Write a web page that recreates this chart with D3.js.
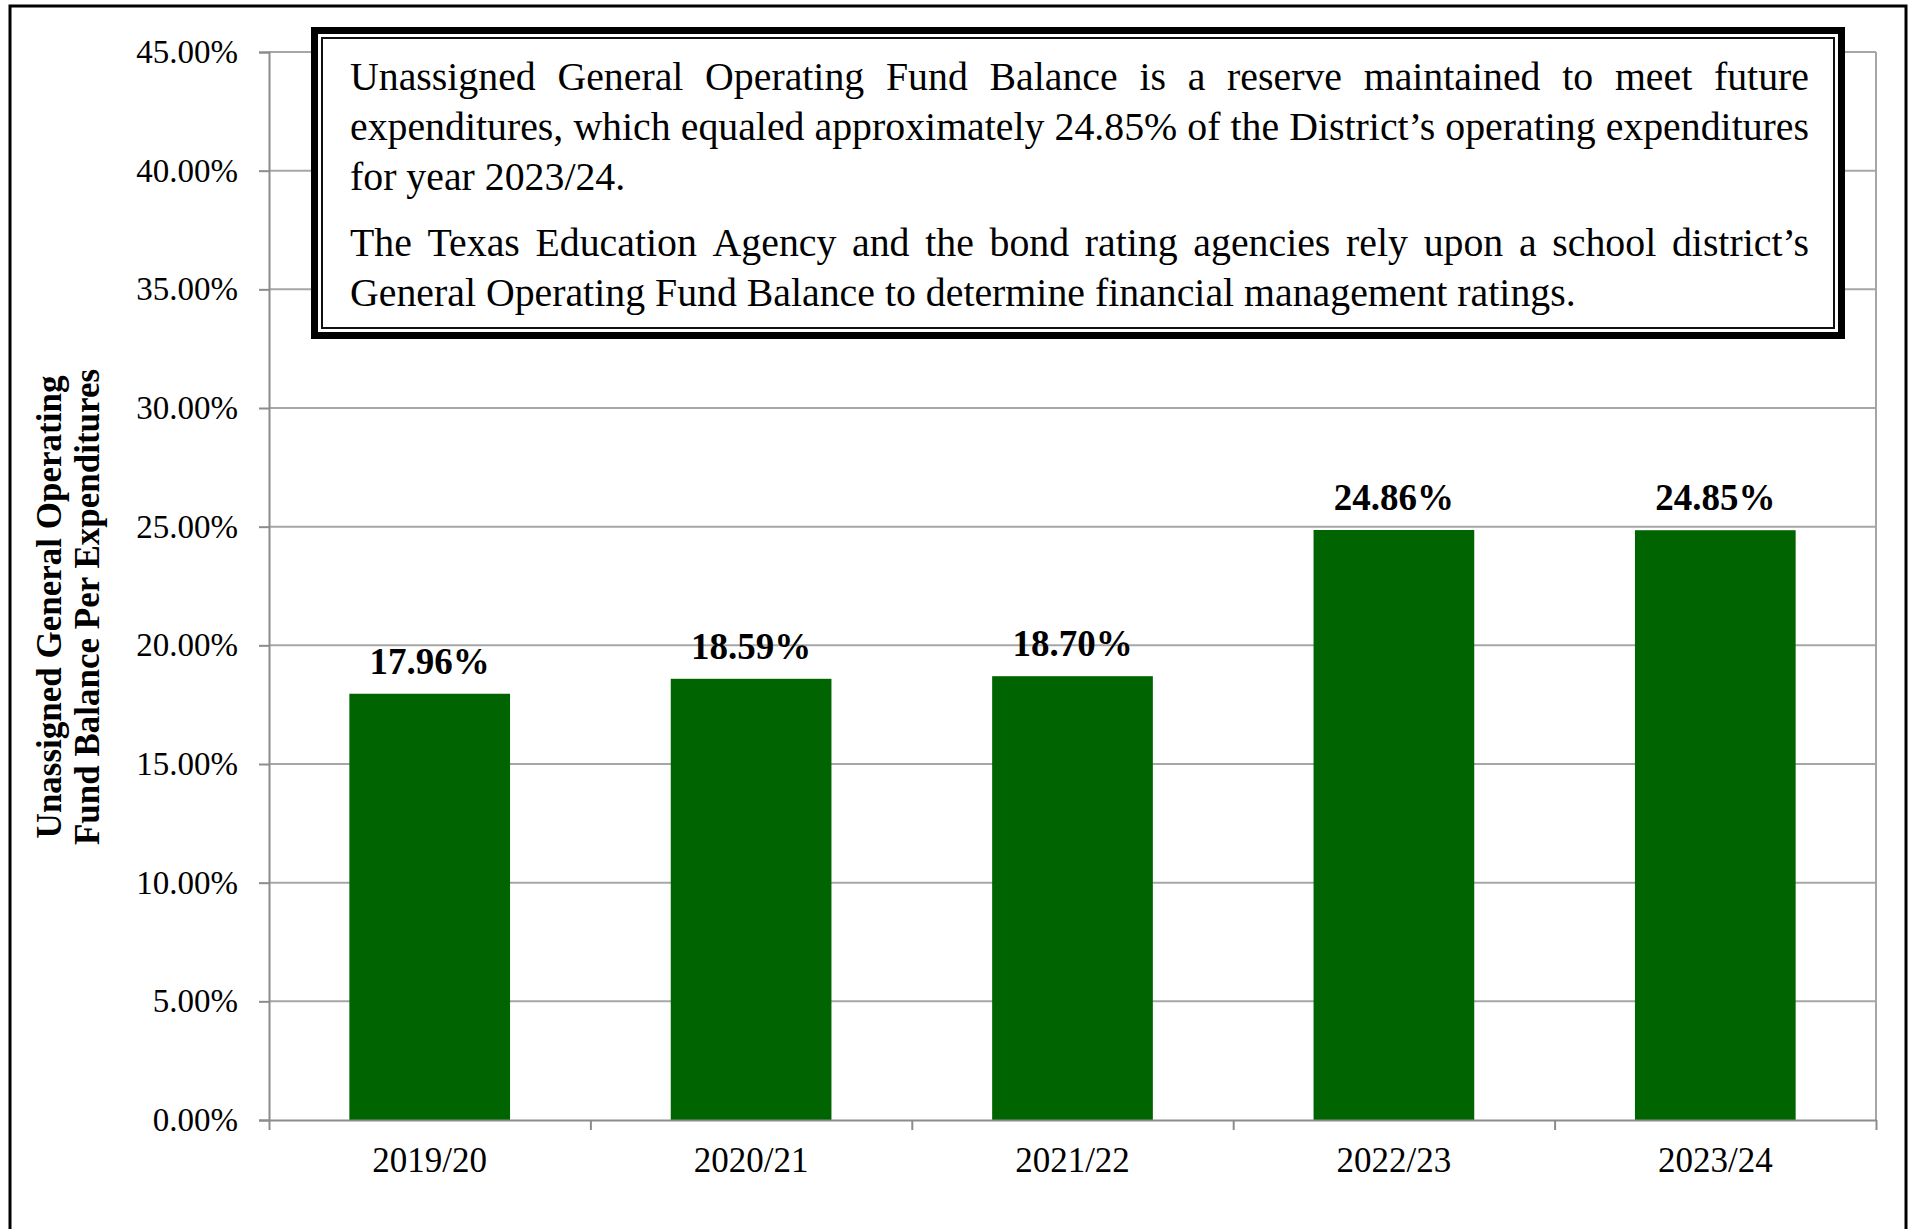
<!DOCTYPE html>
<html>
<head>
<meta charset="utf-8">
<script src="https://cdn.jsdelivr.net/npm/d3@7"></script>
<style>
  html, body { margin: 0; padding: 0; background: #fff; }
  svg { display: block; }
</style>
</head>
<body>
<svg id="chart" width="1915" height="1229"></svg>
<script>
// ---------------- data ----------------
const categories = ["2019/20", "2020/21", "2021/22", "2022/23", "2023/24"];
const values = [17.96, 18.59, 18.70, 24.86, 24.85];
const yTickValues = [0, 5, 10, 15, 20, 25, 30, 35, 40, 45];
const yTitleLines = ["Unassigned General Operating", "Fund Balance Per Expenditures"];
const noteParagraph1 = [
  "Unassigned General Operating Fund Balance is a reserve maintained to meet future",
  "expenditures, which equaled approximately 24.85% of the District\u2019s operating expenditures",
  "for year 2023/24."
];
const noteParagraph2 = [
  "The Texas Education Agency and the bond rating agencies rely upon a school district\u2019s",
  "General Operating Fund Balance to determine financial management ratings."
];

// ---------------- layout ----------------
const FONT = "'Liberation Serif', 'Times New Roman', serif";
const plot = { left: 269, right: 1876, top: 52, bottom: 1120 };
const gridColor = "#a6a6a6";
const axisColor = "#8c8c8c";
const barColor = "#006400";

const svg = d3.select("#chart");

// outer frame
svg.append("rect")
  .attr("x", 10).attr("y", 6)
  .attr("width", 1896).attr("height", 1240)
  .attr("fill", "#fff").attr("stroke", "#000").attr("stroke-width", 3);

const x = d3.scaleBand()
  .domain(categories)
  .range([plot.left, plot.right])
  .paddingInner(0.5)
  .paddingOuter(0.25);

const y = d3.scaleLinear()
  .domain([0, 45])
  .range([plot.bottom, plot.top]);

// gridlines
svg.append("g")
  .selectAll("line")
  .data(yTickValues.filter(d => d > 0))
  .join("line")
  .attr("x1", plot.left).attr("x2", plot.right)
  .attr("y1", d => y(d)).attr("y2", d => y(d))
  .attr("stroke", gridColor).attr("stroke-width", 2);

// right border of plot area
svg.append("line")
  .attr("x1", plot.right).attr("x2", plot.right)
  .attr("y1", y(45)).attr("y2", y(0))
  .attr("stroke", gridColor).attr("stroke-width", 2);

// y axis
const yAxis = d3.axisLeft(y)
  .tickValues(yTickValues)
  .tickFormat(d => d3.format(".2f")(d) + "%")
  .tickSize(10)
  .tickPadding(21);

const yAxisG = svg.append("g")
  .attr("transform", `translate(${plot.left},0)`)
  .call(yAxis);
yAxisG.select(".domain").attr("stroke", axisColor).attr("stroke-width", 2);
yAxisG.selectAll(".tick line").attr("stroke", axisColor).attr("stroke-width", 2);
yAxisG.selectAll(".tick text")
  .attr("font-family", FONT).attr("font-size", 33).attr("fill", "#000");

// bars
svg.append("g")
  .selectAll("rect")
  .data(values)
  .join("rect")
  .attr("x", (d, i) => x(categories[i]))
  .attr("width", x.bandwidth())
  .attr("y", d => y(d))
  .attr("height", d => y(0) - y(d))
  .attr("fill", barColor);

// x axis line + ticks at band boundaries
const edgeScale = d3.scaleLinear().domain([0, categories.length]).range([plot.left, plot.right]);
const xAxis = d3.axisBottom(edgeScale)
  .tickValues(d3.range(0, categories.length + 1))
  .tickFormat("")
  .tickSize(10)
  .tickSizeOuter(0);
const xAxisG = svg.append("g")
  .attr("transform", `translate(0,${plot.bottom})`)
  .call(xAxis);
xAxisG.select(".domain").attr("stroke", axisColor).attr("stroke-width", 2);
xAxisG.selectAll(".tick line").attr("stroke", axisColor).attr("stroke-width", 2);

// category labels
svg.append("g")
  .selectAll("text")
  .data(categories)
  .join("text")
  .attr("x", d => x(d) + x.bandwidth() / 2)
  .attr("y", plot.bottom + 52)
  .attr("text-anchor", "middle")
  .attr("font-family", FONT).attr("font-size", 35).attr("fill", "#000")
  .text(d => d);

// value labels
svg.append("g")
  .selectAll("text")
  .data(values)
  .join("text")
  .attr("x", (d, i) => x(categories[i]) + x.bandwidth() / 2)
  .attr("y", d => y(d) - 20)
  .attr("text-anchor", "middle")
  .attr("font-family", FONT).attr("font-size", 37).attr("font-weight", "bold").attr("fill", "#000")
  .text(d => d3.format(".2f")(d) + "%");

// y-axis title
const titleX = [61, 99];
svg.append("g")
  .selectAll("text")
  .data(yTitleLines)
  .join("text")
  .attr("transform", (d, i) => `translate(${titleX[i]},607) rotate(-90)`)
  .attr("text-anchor", "middle")
  .attr("font-family", FONT).attr("font-size", 35).attr("font-weight", "bold").attr("fill", "#000")
  .text(d => d);

// ---------------- note box ----------------
const box = { x: 311, y: 27, w: 1534, h: 312 };
const thick = 7, gap = 3, thin = 2;
svg.append("rect")
  .attr("x", box.x + thick / 2).attr("y", box.y + thick / 2)
  .attr("width", box.w - thick).attr("height", box.h - thick)
  .attr("fill", "#fff").attr("stroke", "#000").attr("stroke-width", thick);
const innerOff = thick + gap + thin / 2;
svg.append("rect")
  .attr("x", box.x + innerOff).attr("y", box.y + innerOff)
  .attr("width", box.w - 2 * innerOff).attr("height", box.h - 2 * innerOff)
  .attr("fill", "none").attr("stroke", "#111").attr("stroke-width", thin);

const textLeft = 350, textRight = 1809;
const noteFontSize = 39.8;
const noteLines = [
  { text: noteParagraph1[0], baseline: 90, justify: true },
  { text: noteParagraph1[1], baseline: 140, justify: true },
  { text: noteParagraph1[2], baseline: 190, justify: false },
  { text: noteParagraph2[0], baseline: 256, justify: true },
  { text: noteParagraph2[1], baseline: 306, justify: false }
];

const noteG = svg.append("g")
  .attr("font-family", FONT).attr("font-size", noteFontSize).attr("fill", "#000");

const measure = svg.append("text")
  .attr("font-family", FONT).attr("font-size", noteFontSize)
  .attr("visibility", "hidden");
function wordWidth(w) {
  measure.text(w);
  return measure.node().getComputedTextLength();
}
const spaceW = (function () {
  measure.text("a a"); const a = measure.node().getComputedTextLength();
  measure.text("aa"); const b = measure.node().getComputedTextLength();
  return a - b;
})();

noteLines.forEach(line => {
  const words = line.text.split(" ");
  const widths = words.map(wordWidth);
  const total = d3.sum(widths);
  let spacing = spaceW;
  if (line.justify && words.length > 1) {
    spacing = Math.max(spaceW * 0.6, (textRight - textLeft - total) / (words.length - 1));
  }
  const t = noteG.append("text").attr("y", line.baseline);
  let cx = textLeft;
  words.forEach((w, i) => {
    t.append("tspan").attr("x", cx).text(w);
    cx += widths[i] + spacing;
  });
});
measure.remove();
</script>
</body>
</html>
